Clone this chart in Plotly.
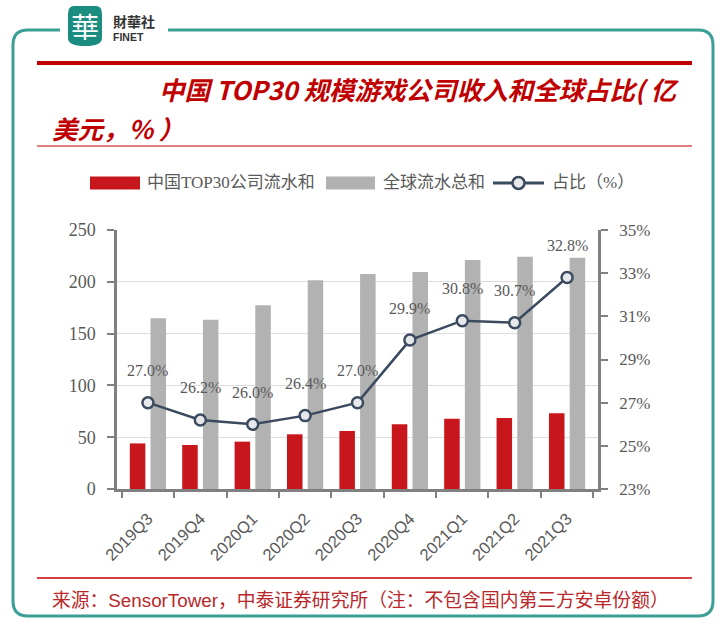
import plotly.graph_objects as go

# ---------------- data ----------------
quarters = ["2019Q3", "2019Q4", "2020Q1", "2020Q2", "2020Q3",
            "2020Q4", "2021Q1", "2021Q2", "2021Q3"]
china_top30 = [44, 42.5, 45.7, 52.8, 56, 62.4, 67.9, 68.5, 73]
global_total = [164.8, 163.4, 177.3, 201.4, 207.5, 209.5, 221, 224.2, 223.3]
share_pct = [27.0, 26.2, 26.0, 26.4, 27.0, 29.9, 30.8, 30.7, 32.8]

left_ticks = [0, 50, 100, 150, 200, 250]
right_ticks = [23, 25, 27, 29, 31, 33, 35]
right_tick_text = [f"{v}%" for v in right_ticks]

name_china = "中国TOP30公司流水和"
name_global = "全球流水总和"
name_share = "占比（%）"
title_l1 = "中国 TOP30 规模游戏公司收入和全球占比( 亿"
title_l2 = "美元，% ）"
source = "来源：SensorTower，中泰证券研究所（注：不包含国内第三方安卓份额）"

# ---------------- geometry helpers ----------------
W, H = 720, 627
PL, PR, PT, PB = 117, 598, 230, 489


def px(x):
    return (x - PL) / (PR - PL)


def py(y):
    return (PB - y) / (PB - PT)


RED = "#c8161d"
GRAY = "#b2b2b2"
NAVY = "#3b4a5e"
AXIS = "#808080"
TXT = "#595959"
TEAL = "#3a9f95"
SERIF = "Liberation Serif, Noto Sans CJK SC, serif"
CJK = "Liberation Serif, Noto Sans CJK SC, sans-serif"

fig = go.Figure()
fig.add_trace(go.Bar(x=quarters, y=china_top30, name=name_china,
                     marker=dict(color=RED, line=dict(width=0)), yaxis="y"))
fig.add_trace(go.Bar(x=quarters, y=global_total, name=name_global,
                     marker=dict(color=GRAY, line=dict(width=0)), yaxis="y"))
fig.add_trace(go.Scatter(x=quarters, y=share_pct, name=name_share, yaxis="y2",
                         mode="lines+markers",
                         line=dict(color=NAVY, width=2.5),
                         marker=dict(size=11, color="#e6e8ec",
                                     line=dict(color=NAVY, width=2.5))))

annotations = []
for q, v in zip(quarters, share_pct):
    annotations.append(dict(x=q, y=v, xref="x", yref="y2", text=f"{v:.1f}%",
                            showarrow=False, yshift=32,
                            font=dict(family=SERIF, size=16, color=TXT)))

# title
annotations.append(dict(x=px(157), y=py(88), xref="paper", yref="paper",
                        xanchor="left", yanchor="middle", showarrow=False,
                        text=f"<b><i>{title_l1}</i></b>",
                        font=dict(family="Noto Sans CJK SC", size=25.5, color="#c00000")))
annotations.append(dict(x=px(50), y=py(128), xref="paper", yref="paper",
                        xanchor="left", yanchor="middle", showarrow=False,
                        text=f"<b><i>{title_l2}</i></b>",
                        font=dict(family="Noto Sans CJK SC", size=25.5, color="#c00000")))
# source
annotations.append(dict(x=px(50), y=py(600), xref="paper", yref="paper",
                        xanchor="left", yanchor="middle", showarrow=False,
                        text=source,
                        font=dict(family="Liberation Sans, Noto Sans CJK SC", size=18.8,
                                  color="#b8282a")))
# logo text
annotations.append(dict(x=px(68 + 17), y=py(26), xref="paper", yref="paper",
                        xanchor="center", yanchor="middle", showarrow=False,
                        text="華",
                        font=dict(family="Noto Sans CJK TC", size=28, color="white")))
annotations.append(dict(x=px(111), y=py(28), xref="paper", yref="paper",
                        xanchor="left", yanchor="middle", showarrow=False,
                        align="left",
                        text="<b><span style='font-size:14px'>財華社</span></b><br><b>FINET</b>",
                        font=dict(family="Liberation Sans, Noto Sans CJK TC", size=10.5,
                                  color="#333333")))

# custom legend (text + swatches)
leg_y = 183
annotations.append(dict(x=px(145), y=py(leg_y), xref="paper", yref="paper",
                        xanchor="left", yanchor="middle", showarrow=False,
                        text=name_china, font=dict(family=CJK, size=17, color=TXT)))
annotations.append(dict(x=px(381), y=py(leg_y), xref="paper", yref="paper",
                        xanchor="left", yanchor="middle", showarrow=False,
                        text=name_global, font=dict(family=CJK, size=17, color=TXT)))
annotations.append(dict(x=px(550), y=py(leg_y), xref="paper", yref="paper",
                        xanchor="left", yanchor="middle", showarrow=False,
                        text=name_share, font=dict(family=CJK, size=17, color=TXT)))


def P(x, y):
    return f"{px(x):.5f},{py(y):.5f}"


r = 15
frame_path = (f"M {P(60,30)} L {P(13+r,30)} Q {P(13,30)} {P(13,30+r)} "
              f"L {P(13,616-r)} Q {P(13,616)} {P(13+r,616)} "
              f"L {P(713-r,616)} Q {P(713,616)} {P(713,616-r)} "
              f"L {P(713,30+r)} Q {P(713,30)} {P(713-r,30)} L {P(168,30)}")
logo_path = (f"M {P(74,6)} L {P(96,6)} Q {P(102,6)} {P(102,14)} L {P(102,38)} "
             f"Q {P(102,46)} {P(85,46)} Q {P(68,46)} {P(68,38)} L {P(68,14)} "
             f"Q {P(68,6)} {P(74,6)} Z")

shapes = [
    dict(type="path", xref="paper", yref="paper", path=frame_path,
         line=dict(color=TEAL, width=3)),
    dict(type="path", xref="paper", yref="paper", path=logo_path,
         fillcolor="#1a8c80", line=dict(width=0)),
    dict(type="line", xref="paper", yref="paper", x0=px(37), x1=px(692),
         y0=py(63), y1=py(63), line=dict(color="#c00000", width=4)),
    dict(type="line", xref="paper", yref="paper", x0=px(37), x1=px(692),
         y0=py(146), y1=py(146), line=dict(color="#c00000", width=1.2)),
    dict(type="line", xref="paper", yref="paper", x0=px(37), x1=px(692),
         y0=py(578), y1=py(578), line=dict(color="#c00000", width=1.5)),
    # legend swatches
    dict(type="rect", xref="paper", yref="paper", x0=px(90), x1=px(140),
         y0=py(189.5), y1=py(176.5), fillcolor=RED, line=dict(width=0)),
    dict(type="rect", xref="paper", yref="paper", x0=px(326), x1=px(375),
         y0=py(189.5), y1=py(176.5), fillcolor=GRAY, line=dict(width=0)),
    dict(type="line", xref="paper", yref="paper", x0=px(493), x1=px(544),
         y0=py(leg_y), y1=py(leg_y), line=dict(color=NAVY, width=3)),
    dict(type="circle", xref="paper", yref="paper", x0=px(512.5), x1=px(524.5),
         y0=py(189), y1=py(177), fillcolor="#e6e8ec", line=dict(color=NAVY, width=2.5)),
]

fig.update_layout(
    width=W, height=H,
    margin=dict(l=PL, r=W - PR, t=PT, b=H - PB, pad=0),
    paper_bgcolor="white", plot_bgcolor="white",
    barmode="group", bargap=0.21, bargroupgap=0.25,
    showlegend=False,
    xaxis=dict(type="category", showline=True, linecolor=AXIS, linewidth=2.5,
               ticks="outside", tickson="boundaries", ticklen=6, tickwidth=2,
               tickcolor=AXIS, tickangle=-45, ticklabelstandoff=11,
               tickfont=dict(family="Liberation Sans", size=16.5, color=TXT),
               showgrid=False, zeroline=False),
    yaxis=dict(range=[0, 250], tickvals=left_ticks, showline=True,
               linecolor=AXIS, linewidth=2.5, ticks="outside", ticklen=7,
               tickwidth=2, tickcolor=AXIS, showgrid=True, gridcolor="#dedede",
               gridwidth=1, zeroline=False, ticklabelstandoff=8,
               tickfont=dict(family=SERIF, size=18, color=TXT)),
    yaxis2=dict(range=[23, 35], tickmode="array", tickvals=right_ticks,
                ticktext=right_tick_text,
                overlaying="y", side="right", showline=True, linecolor=AXIS,
                linewidth=2.5, ticks="outside", ticklen=7, tickwidth=2,
                tickcolor=AXIS, showgrid=False, zeroline=False,
                ticklabelstandoff=8,
                tickfont=dict(family=SERIF, size=17, color=TXT)),
    annotations=annotations,
    shapes=shapes,
)

fig.write_html("out.html")
